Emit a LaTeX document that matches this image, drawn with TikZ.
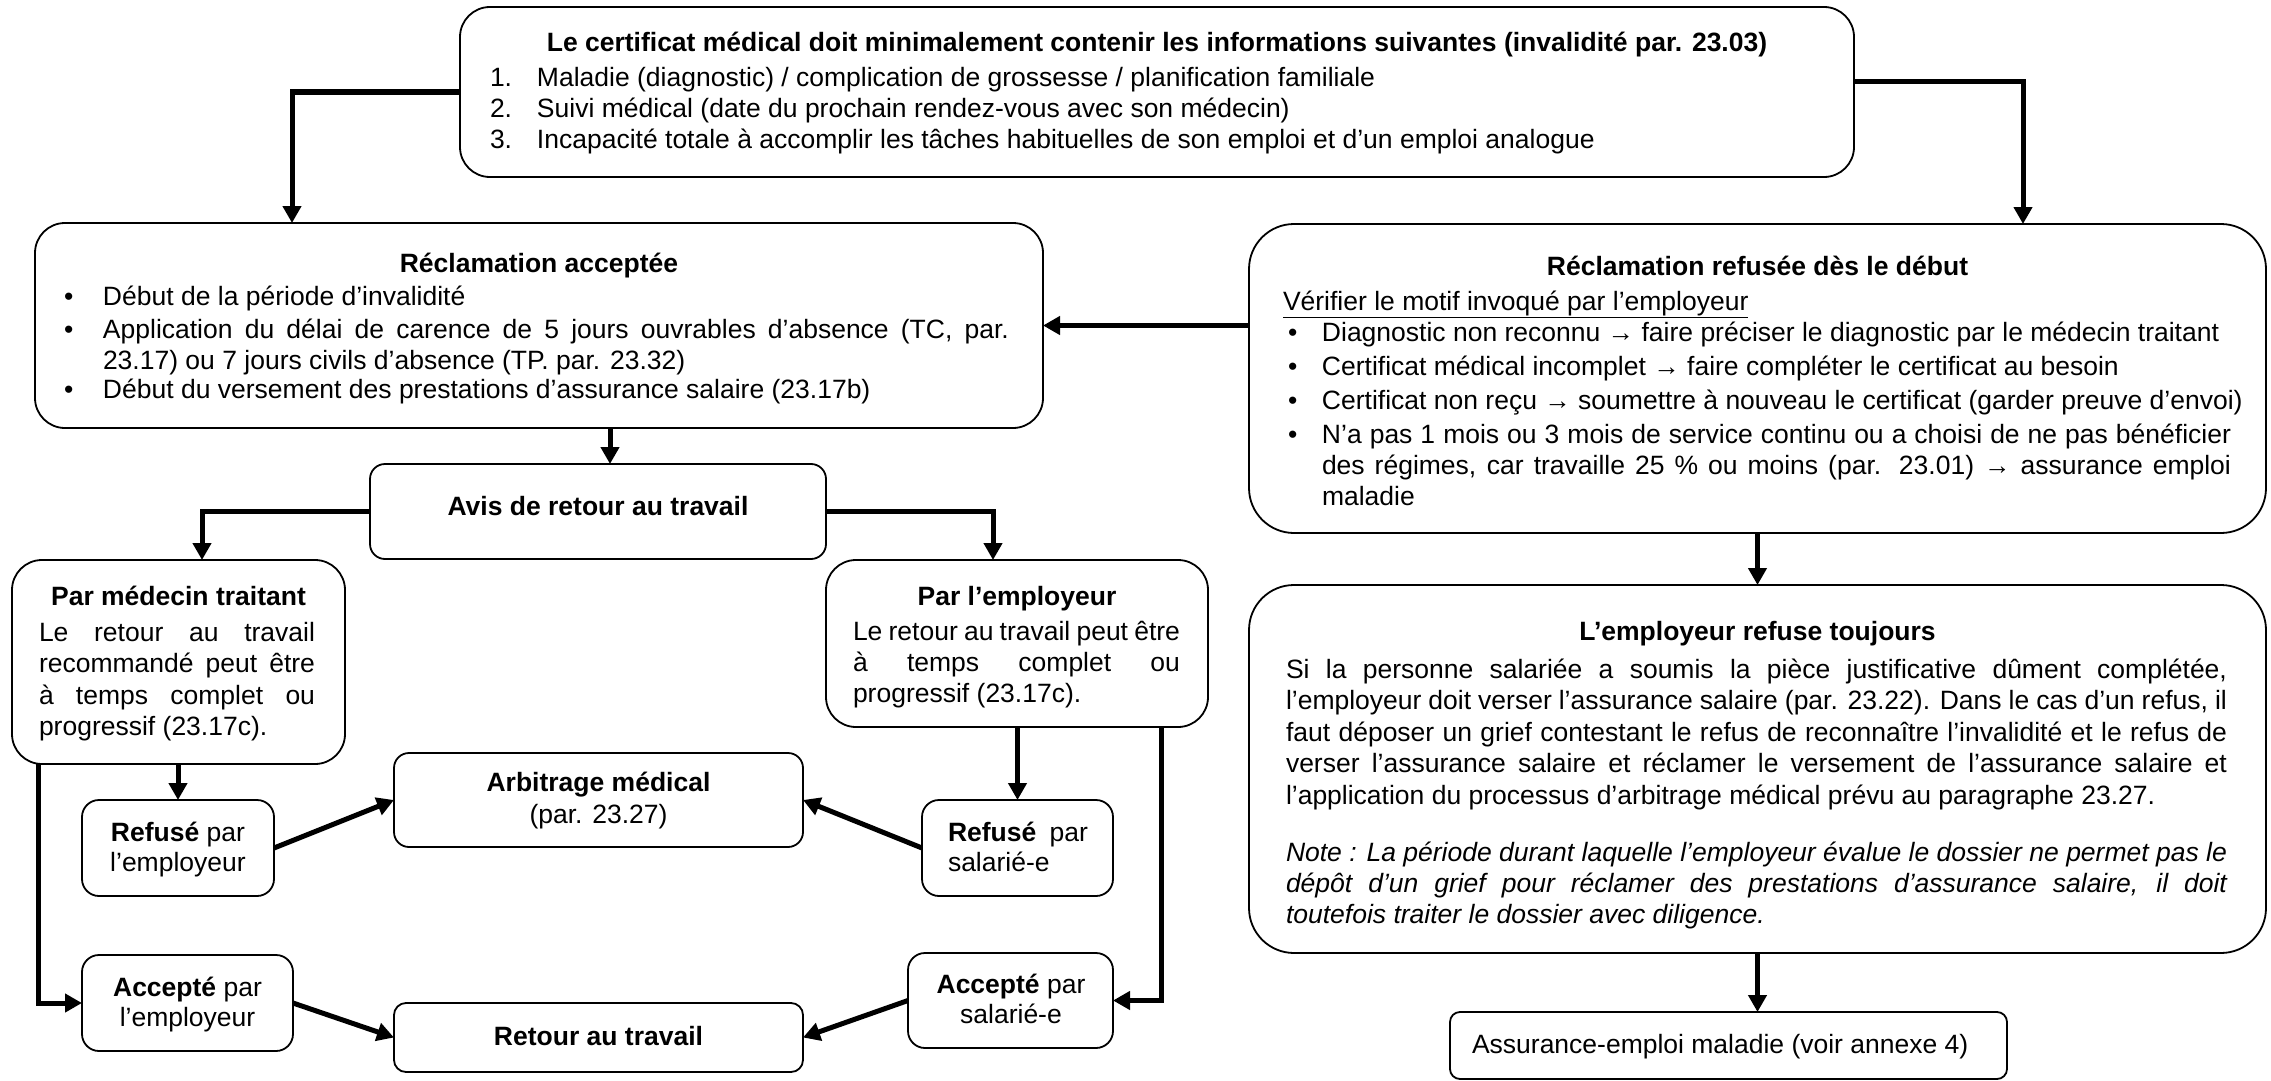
\documentclass[tikz,border=0pt]{standalone}
\usepackage{fontspec}
\setmainfont{Liberation Sans}
\usetikzlibrary{arrows.meta,calc}
\newcommand\fs{\fontsize{26.5pt}{30.5pt}\selectfont}
\newcommand\jl[2]{\makebox[#1pt][s]{#2}}
\newcommand\bul[1]{\makebox[#1pt][l]{•}}
\tikzset{
  box/.style={draw, line width=1.8pt, rounded corners=#1, inner sep=0pt, outer sep=0pt},
  conn/.style={line width=5pt, -{Triangle[width=18pt,length=17pt]}},
  txt/.style={inner sep=0pt, outer sep=0pt, font=\fs, anchor=base west},
  ctxt/.style={inner sep=0pt, outer sep=0pt, font=\fs, anchor=base},
}
\begin{document}
\begin{tikzpicture}[x=1pt,y=-1pt]
\path[use as bounding box, fill=white] (0,0) rectangle (2271,1081);
% boxes
\node[box=30pt, minimum width=1394pt, minimum height=170pt] (top) at (1157,92) {};
\node[box=30pt, minimum width=1008pt, minimum height=205pt] (accept) at (539,325.5) {};
\node[box=45pt, minimum width=1017pt, minimum height=309pt] (refuse) at (1757.5,378.5) {};
\node[box=15pt, minimum width=456pt, minimum height=95pt] (avis) at (598,511.5) {};
\node[box=30pt, minimum width=333pt, minimum height=204pt] (medecin) at (178.5,662) {};
\node[box=30pt, minimum width=382pt, minimum height=167pt] (employeur) at (1017,643.5) {};
\node[box=17pt, minimum width=192pt, minimum height=96pt] (refemp) at (178,848) {};
\node[box=15pt, minimum width=409pt, minimum height=94pt] (arbitrage) at (598.5,800) {};
\node[box=17pt, minimum width=191pt, minimum height=96pt] (refsal) at (1017.5,848) {};
\node[box=17pt, minimum width=211pt, minimum height=96pt] (accemp) at (187.5,1003) {};
\node[box=12pt, minimum width=409pt, minimum height=69pt] (retour) at (598.5,1037.5) {};
\node[box=17pt, minimum width=205pt, minimum height=95pt] (accsal) at (1010.5,1000.5) {};
\node[box=45pt, minimum width=1017pt, minimum height=368pt] (emprefuse) at (1757.5,769) {};
\node[box=10pt, minimum width=557pt, minimum height=67pt] (assur) at (1728.5,1045.5) {};
% texts
\node[ctxt, font=\fs\bfseries] (ttop) at (1157,52) {Le certificat médical doit minimalement contenir les informations suivantes (invalidité par. 23.03)};
\node[txt] (ltop) at (490,87) {\parbox[t]{1350pt}{\setlength\baselineskip{31pt}\makebox[47pt][l]{1.}Maladie (diagnostic) / complication de grossesse / planification familiale\\
\makebox[47pt][l]{2.}Suivi médical (date du prochain rendez-vous avec son médecin)\\
\makebox[47pt][l]{3.}Incapacité totale à accomplir les tâches habituelles de son emploi et d’un emploi analogue}};
\node[ctxt, font=\fs\bfseries] (tacc) at (539,272) {Réclamation acceptée};
\node[txt] (lacc) at (64,305) {\parbox[t]{960pt}{\setlength\baselineskip{30.5pt}\bul{39}Début de la période d’invalidité\\[3pt]
\bul{39}\jl{906}{Application du délai de carence de 5 jours ouvrables d’absence (TC, par.}\\
\hspace*{39pt}23.17) ou 7 jours civils d’absence (TP. par. 23.32)\\[-1pt]
\bul{39}Début du versement des prestations d’assurance salaire (23.17b)}};
\node[ctxt, font=\fs\bfseries] (tref) at (1757.5,275) {Réclamation refusée dès le début};
\node[txt] (vref) at (1283,310) {\underline{Vérifier le motif invoqué par l’employeur}};
\node[txt] (lref) at (1288,341) {\parbox[t]{1000pt}{\setlength\baselineskip{31pt}\bul{34}Diagnostic non reconnu → faire préciser le diagnostic par le médecin traitant\\[3pt]
\bul{34}Certificat médical incomplet → faire compléter le certificat au besoin\\[3pt]
\bul{34}Certificat non reçu → soumettre à nouveau le certificat (garder preuve d’envoi)\\[3pt]
\bul{34}\jl{909}{N’a pas 1 mois ou 3 mois de service continu ou a choisi de ne pas bénéficier}\\
\hspace*{34pt}\jl{909}{des régimes, car travaille 25~\% ou moins (par. 23.01) → assurance emploi}\\
\hspace*{34pt}maladie}};
\node[ctxt, font=\fs\bfseries] (tavis) at (598,515) {Avis de retour au travail};
\node[ctxt, font=\fs\bfseries] (tmed) at (178.5,605) {Par médecin traitant};
\node[txt] (lmed) at (39,641) {\parbox[t]{300pt}{\setlength\baselineskip{31.5pt}\jl{276}{Le retour au travail}\\
\jl{276}{recommandé peut être}\\
\jl{276}{à temps complet ou}\\
progressif (23.17c).}};
\node[ctxt, font=\fs\bfseries] (temp) at (1017,605) {Par l’employeur};
\node[txt] (lemp) at (853,640) {\parbox[t]{360pt}{\setlength\baselineskip{31pt}\jl{327}{Le retour au travail peut être}\\
\jl{327}{à temps complet ou}\\
progressif (23.17c).}};
\node[ctxt] (trefemp) at (178,841) {\parbox[t]{190pt}{\centering\setlength\baselineskip{30pt}\textbf{Refusé} par\\ l’employeur}};
\node[ctxt] (tarb) at (598.5,791) {\parbox[t]{400pt}{\centering\setlength\baselineskip{32pt}\textbf{Arbitrage médical}\\ (par. 23.27)}};
\node[txt] (trefsal) at (948,841) {\parbox[t]{170pt}{\setlength\baselineskip{30pt}\jl{140}{\textbf{Refusé} par}\\ salarié-e}};
\node[ctxt] (taccemp) at (187.5,996) {\parbox[t]{205pt}{\centering\setlength\baselineskip{30pt}\textbf{Accepté} par\\ l’employeur}};
\node[ctxt, font=\fs\bfseries] (tret) at (598.5,1045) {Retour au travail};
\node[ctxt] (taccsal) at (1011,993) {\parbox[t]{200pt}{\centering\setlength\baselineskip{30pt}\textbf{Accepté} par\\ salarié-e}};
\node[ctxt, font=\fs\bfseries] (temprf) at (1757.5,640) {L’employeur refuse toujours};
\node[txt] (lemprf) at (1286,678) {\parbox[t]{990pt}{\setlength\baselineskip{31.5pt}\jl{941}{Si la personne salariée a soumis la pièce justificative dûment complétée,}\\
\jl{941}{l’employeur doit verser l’assurance salaire (par. 23.22). Dans le cas d’un refus, il}\\
\jl{941}{faut déposer un grief contestant le refus de reconnaître l’invalidité et le refus de}\\
\jl{941}{verser l’assurance salaire et réclamer le versement de l’assurance salaire et}\\
l’application du processus d’arbitrage médical prévu au paragraphe 23.27.}};
\node[txt] (lnote) at (1286,861) {\parbox[t]{990pt}{\itshape\setlength\baselineskip{31pt}\jl{941}{Note : La période durant laquelle l’employeur évalue le dossier ne permet pas le}\\
\jl{941}{dépôt d’un grief pour réclamer des prestations d’assurance salaire, il doit}\\
toutefois traiter le dossier avec diligence.}};
\node[txt] (tassur) at (1472,1053) {Assurance-emploi maladie (voir annexe 4)};
% connectors
\coordinate (ca) at ($(accept.north)+(-247,0)$);
\coordinate (cr) at ($(refuse.north)+(265.5,0)$);
\coordinate (cv) at ($(avis.north)+(12,0)$);
\coordinate (cm) at ($(medecin.north)+(23.5,0)$);
\coordinate (ce) at ($(employeur.north)+(-24,0)$);
\coordinate (cma) at ($(accemp.west)+(-44,0)$);
\coordinate (cea) at ($(accsal.east)+(48,0)$);
\draw[conn] (top.west) -| (ca);
\draw[conn] ($(top.east)+(0,-10)$) -| (cr);
\draw[conn] (refuse.west |- accept.east) -- (accept.east);
\draw[conn] (cv |- accept.south) -- (cv);
\draw[conn] (avis.west) -| (cm);
\draw[conn] (avis.east) -| (ce);
\draw[conn] (refemp.north |- medecin.south) -- (refemp.north);
\draw[conn] (cma |- medecin.south) |- (accemp.west);
\draw[conn] (refsal.north |- employeur.south) -- (refsal.north);
\draw[conn] (cea |- employeur.south) |- (accsal.east);
\draw[conn] (refemp.east) -- (arbitrage.west);
\draw[conn] (refsal.west) -- (arbitrage.east);
\draw[conn] (accemp.east) -- (retour.west);
\draw[conn] (accsal.west) -- (retour.east);
\draw[conn] (refuse.south) -- (emprefuse.north);
\draw[conn] (emprefuse.south) -- (emprefuse.south |- assur.north);
\end{tikzpicture}
\end{document}
